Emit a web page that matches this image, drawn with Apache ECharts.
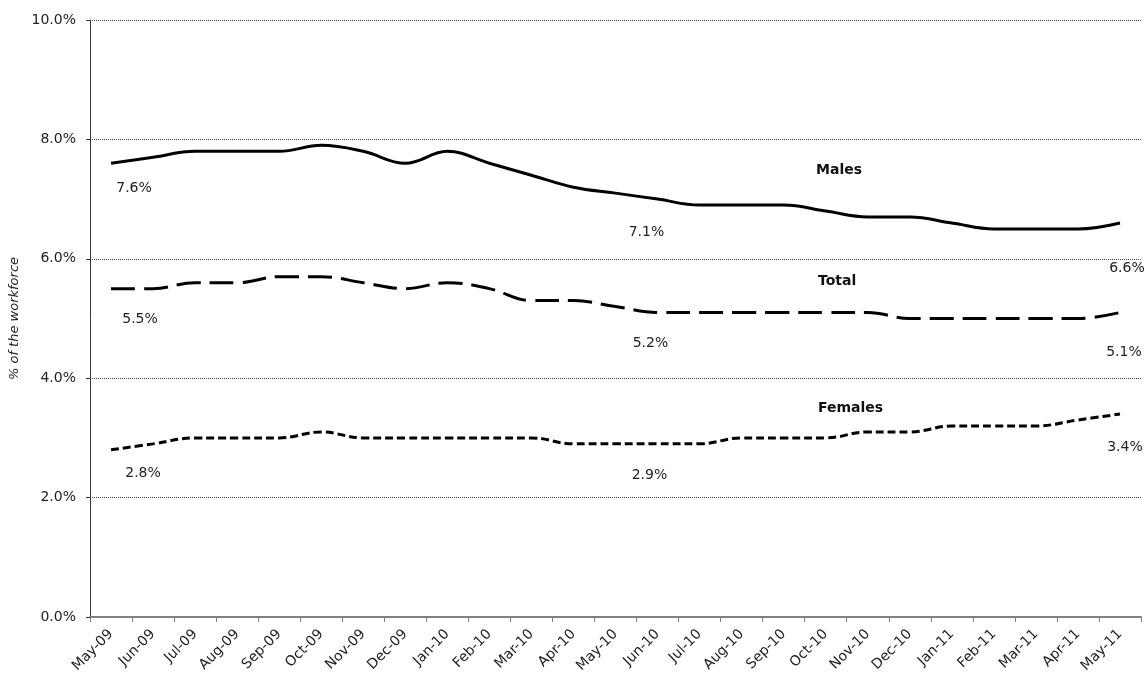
<!DOCTYPE html>
<html>
<head>
<meta charset="utf-8">
<title>Unemployment rate by sex</title>
<script src="https://cdn.jsdelivr.net/npm/echarts@6/dist/echarts.min.js"></script>
<style>
  html, body { margin: 0; padding: 0; background: #fff; }
  #chart { width: 1148px; height: 680px; }
</style>
</head>
<body>
<div id="chart"></div>
<script>
// Monthly categories
const months = ['May-09', 'Jun-09', 'Jul-09', 'Aug-09', 'Sep-09', 'Oct-09', 'Nov-09', 'Dec-09',
  'Jan-10', 'Feb-10', 'Mar-10', 'Apr-10', 'May-10', 'Jun-10', 'Jul-10', 'Aug-10', 'Sep-10',
  'Oct-10', 'Nov-10', 'Dec-10', 'Jan-11', 'Feb-11', 'Mar-11', 'Apr-11', 'May-11'];

// Rates, % of the workforce
const males = [7.6, 7.7, 7.8, 7.8, 7.8, 7.9, 7.8, 7.6, 7.8, 7.6, 7.4, 7.2, 7.1,
  7.0, 6.9, 6.9, 6.9, 6.8, 6.7, 6.7, 6.6, 6.5, 6.5, 6.5, 6.6];
const total = [5.5, 5.5, 5.6, 5.6, 5.7, 5.7, 5.6, 5.5, 5.6, 5.5, 5.3, 5.3, 5.2,
  5.1, 5.1, 5.1, 5.1, 5.1, 5.1, 5.0, 5.0, 5.0, 5.0, 5.0, 5.1];
const females = [2.8, 2.9, 3.0, 3.0, 3.0, 3.1, 3.0, 3.0, 3.0, 3.0, 3.0, 2.9, 2.9,
  2.9, 2.9, 3.0, 3.0, 3.0, 3.1, 3.1, 3.2, 3.2, 3.2, 3.3, 3.4];

// Y axis ticks
const yTicks = [0, 2, 4, 6, 8, 10];

const FONT = 'DejaVu Sans';

// Points whose value is printed, with where the label sits relative to the point
const labelSpots = {
  Males:   { 0: [23, 25], 12: [31, 39], 24: [7, 45] },
  Total:   { 0: [29, 31], 12: [35, 37], 24: [4, 40] },
  Females: { 0: [32, 24], 12: [34, 31], 24: [5, 33] }
};

function buildData(name, values) {
  const spots = labelSpots[name];
  return values.map((v, i) => {
    if (!spots[i]) return v;
    return {
      value: v,
      label: {
        show: true,
        position: 'inside',
        offset: spots[i],
        formatter: (p) => p.value.toFixed(1) + '%',
        fontFamily: FONT,
        fontSize: 14,
        color: '#222'
      }
    };
  });
}

function lineSeries(name, values, dash) {
  return {
    name: name,
    type: 'line',
    data: buildData(name, values),
    smooth: 0.4,
    symbol: 'circle',
    symbolSize: 0,
    showSymbol: true,
    itemStyle: { color: '#000', borderWidth: 0 },
    lineStyle: { color: '#000', width: 3, type: dash, cap: 'butt' },
    label: { show: false },
    emphasis: { disabled: true },
    z: 3
  };
}

const chart = echarts.init(document.getElementById('chart'), null, { renderer: 'canvas' });

chart.setOption({
  animation: false,
  backgroundColor: '#fff',
  grid: { left: 90, right: 7, top: 20, bottom: 63, containLabel: false, outerBoundsMode: 'none' },
  xAxis: {
    type: 'category',
    data: months,
    boundaryGap: true,
    axisLine: { show: true, lineStyle: { color: '#808080', width: 2 } },
    axisTick: { show: true, alignWithLabel: false, length: 5, lineStyle: { color: '#808080', width: 1 } },
    axisLabel: {
      rotate: 45,
      interval: 0,
      margin: 15,
      fontFamily: FONT,
      fontSize: 14,
      color: '#222'
    },
    splitLine: { show: false }
  },
  yAxis: {
    type: 'value',
    min: yTicks[0],
    max: yTicks[yTicks.length - 1],
    interval: yTicks[1] - yTicks[0],
    name: '% of the workforce',
    nameLocation: 'middle',
    nameRotate: 90,
    nameGap: 67,
    nameTextStyle: { fontFamily: FONT, fontSize: 13, fontStyle: 'italic', color: '#222' },
    axisLine: { show: true, lineStyle: { color: '#333', width: 1 } },
    axisTick: { show: true, length: 4, lineStyle: { color: '#333' } },
    axisLabel: {
      margin: 14,
      fontFamily: FONT,
      fontSize: 14,
      color: '#222',
      formatter: (v) => v.toFixed(1) + '%'
    },
    splitLine: { show: true, lineStyle: { color: '#444', width: 1, type: 'dotted' } }
  },
  series: [
    lineSeries('Males', males, 'solid'),
    lineSeries('Total', total, [24, 9]),
    lineSeries('Females', females, [8, 4])
  ],
  graphic: [
    { type: 'text', left: 816, top: 163, style: { text: 'Males', font: 'bold 14px "DejaVu Sans"', fill: '#111' } },
    { type: 'text', left: 818, top: 274, style: { text: 'Total', font: 'bold 14px "DejaVu Sans"', fill: '#111' } },
    { type: 'text', left: 818, top: 401, style: { text: 'Females', font: 'bold 14px "DejaVu Sans"', fill: '#111' } }
  ]
});
</script>
</body>
</html>
